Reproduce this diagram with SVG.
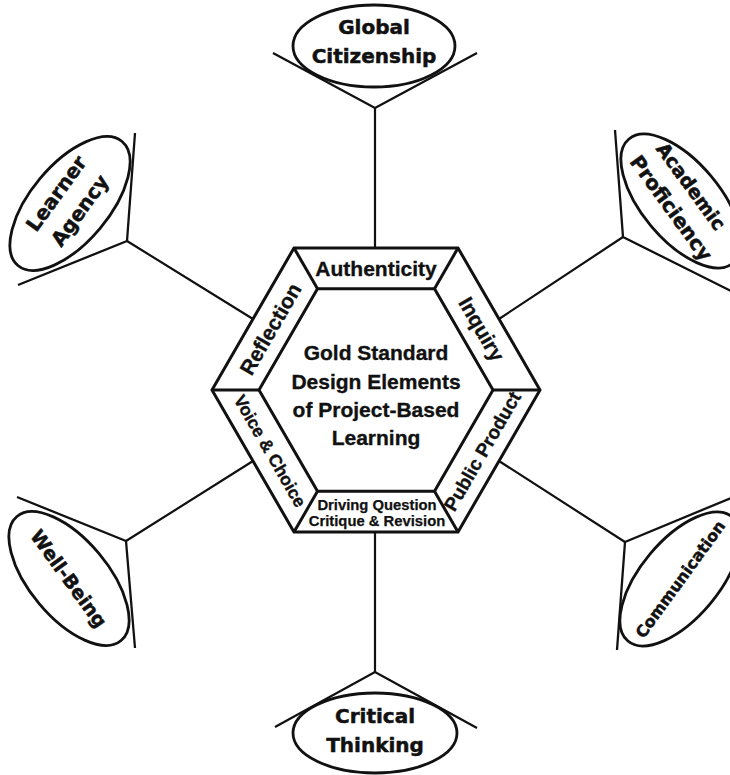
<svg xmlns="http://www.w3.org/2000/svg" width="730" height="775" viewBox="0 0 730 775">
  <style>
    .spoke { stroke: #111; stroke-width: 2.2; fill: none; stroke-linecap: round; }
    .arm { stroke: #111; stroke-width: 2.3; fill: none; stroke-linejoin: miter; }
    .oval { stroke: #111; stroke-width: 2.8; fill: none; }
    .hex { stroke: #111; stroke-width: 3; fill: #fff; stroke-linejoin: miter; }
    .div { stroke: #111; stroke-width: 3; }
    .otxt { font-family: "DejaVu Sans", "Liberation Sans", sans-serif; font-weight: bold; font-size: 20px; fill: #111; stroke: #111; stroke-width: 0.5; text-anchor: middle; }
    .htxt { font-family: "Liberation Sans", Arial, sans-serif; font-weight: bold; font-size: 21px; fill: #111; stroke: #111; stroke-width: 0.35; text-anchor: middle; }
  </style>

  <rect width="730" height="775" fill="#fff"/>

  <!-- spokes from each outcome fork to the hexagon edges -->
  <g id="connectors">
    <line class="spoke" x1="375" y1="108" x2="375" y2="248"/>
    <line class="spoke" x1="375" y1="672" x2="375" y2="532"/>
    <line class="spoke" x1="127" y1="241" x2="253" y2="319"/>
    <line class="spoke" x1="623" y1="237" x2="499" y2="319"/>
    <line class="spoke" x1="126" y1="541" x2="253" y2="461"/>
    <line class="spoke" x1="625" y1="542" x2="499" y2="461"/>
  </g>

  <!-- central hexagon with its six design-element bands -->
  <g id="hexagon">
    <polygon class="hex" points="540,390 458,532 294,532 212,390 294,248 458,248"/>
    <polygon class="hex" points="493,390 434.5,491.3 317.5,491.3 259,390 317.5,288.7 434.5,288.7"/>
    <line class="div" x1="540" y1="390" x2="493" y2="390"/>
    <line class="div" x1="458" y1="532" x2="434.5" y2="491.3"/>
    <line class="div" x1="294" y1="532" x2="317.5" y2="491.3"/>
    <line class="div" x1="212" y1="390" x2="259" y2="390"/>
    <line class="div" x1="294" y1="248" x2="317.5" y2="288.7"/>
    <line class="div" x1="458" y1="248" x2="434.5" y2="288.7"/>

    <text class="htxt" x="376" y="276">Authenticity</text>
    <text class="htxt" transform="translate(481.3,329.2) rotate(60)" x="0" y="7">Inquiry</text>
    <text class="htxt" style="font-size:19px" transform="translate(482,451) rotate(-60)" x="0" y="7">Public Product</text>
    <text class="htxt" style="font-size:17.5px" transform="translate(270,451) rotate(60)" x="0" y="6">Voice &amp; Choice</text>
    <text class="htxt" transform="translate(270.7,329.2) rotate(-60)" x="0" y="7">Reflection</text>
    <text class="htxt" style="font-size:14.8px; stroke-width:0.25" x="377" y="510">Driving Question</text>
    <text class="htxt" style="font-size:14.8px; stroke-width:0.25" x="377" y="526">Critique &amp; Revision</text>

    <text class="htxt" x="376" y="360">Gold Standard</text>
    <text class="htxt" x="376" y="389">Design Elements</text>
    <text class="htxt" x="376" y="417">of Project-Based</text>
    <text class="htxt" x="376" y="445">Learning</text>
  </g>

  <!-- outcome nodes: a fork and a labelled oval around the hexagon -->
  <g id="global-citizenship">
    <polyline class="arm" points="273,53 375,108 477,53"/>
    <g transform="translate(374,46)">
      <ellipse class="oval" rx="81" ry="41"/>
      <text class="otxt" x="0" y="-12">Global</text>
      <text class="otxt" x="0" y="17">Citizenship</text>
    </g>
  </g>

  <g id="academic-proficiency">
    <polyline class="arm" points="615,130 623,237 731,291"/>
    <ellipse class="oval" cx="681" cy="201" rx="81" ry="39" transform="rotate(50 681 201)"/>
    <g transform="translate(681,201) rotate(54)">
      <text class="otxt" style="font-size:19px" x="-6" y="-10">Academic</text>
      <text class="otxt" x="0" y="19">Proficiency</text>
    </g>
  </g>

  <g id="communication">
    <polyline class="arm" points="731,498 625,542 617,650"/>
    <ellipse class="oval" cx="680" cy="579" rx="81" ry="39" transform="rotate(-50 680 579)"/>
    <g transform="translate(680,579) rotate(-54)">
      <text class="otxt" style="font-size:16px" x="0" y="6">Communication</text>
    </g>
  </g>

  <g id="critical-thinking">
    <polyline class="arm" points="275,727 375,672 477,728"/>
    <g transform="translate(375,733)">
      <ellipse class="oval" rx="82" ry="40"/>
      <text class="otxt" x="0" y="-10">Critical</text>
      <text class="otxt" x="0" y="19">Thinking</text>
    </g>
  </g>

  <g id="well-being">
    <polyline class="arm" points="17,497 126,541 135,648"/>
    <ellipse class="oval" cx="69" cy="578.5" rx="81" ry="39" transform="rotate(50 69 578.5)"/>
    <g transform="translate(69,578.5) rotate(54)">
      <text class="otxt" style="font-size:19px" x="0" y="7">Well-Being</text>
    </g>
  </g>

  <g id="learner-agency">
    <polyline class="arm" points="135,133 127,241 18,285"/>
    <ellipse class="oval" cx="70" cy="203.5" rx="81" ry="39" transform="rotate(-50 70 203.5)"/>
    <g transform="translate(70,203.5) rotate(-54)">
      <text class="otxt" x="0" y="-10">Learner</text>
      <text class="otxt" x="0" y="19">Agency</text>
    </g>
  </g>
</svg>
